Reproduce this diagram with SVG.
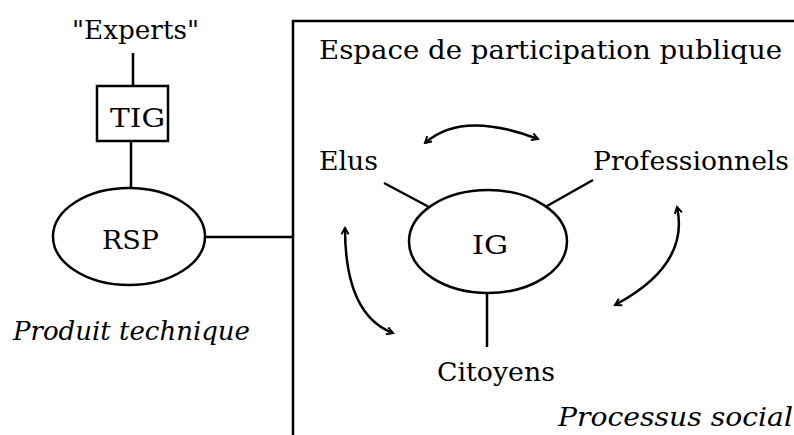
<svg xmlns="http://www.w3.org/2000/svg" width="794" height="435" viewBox="0 0 794 435">
<style>
.s{fill:none;stroke:#000;stroke-width:2.5}
text{font-size:26px;fill:#000}
.i{font-style:italic}
</style>
<defs>
<marker id="ah" viewBox="0 0 10 10" refX="8" refY="5" markerWidth="9" markerHeight="9" markerUnits="userSpaceOnUse" orient="auto-start-reverse">
<path d="M1,1 L8,5 L1,9" fill="none" stroke="#000" stroke-width="2.2"/>
</marker>
</defs>
<rect width="794" height="435" fill="#fff"/>
<g id="space">
<path class="s" d="M293,435 V21 H794"/>
<text style="font-family:'DejaVu Serif'" x="319" y="59" textLength="463" lengthAdjust="spacingAndGlyphs">Espace de participation publique</text>
</g>
<g id="connectors">
<line class="s" x1="133" y1="53" x2="133" y2="86"/>
<line class="s" x1="131" y1="141" x2="131" y2="188"/>
<line class="s" x1="205" y1="237" x2="293" y2="237"/>
<line class="s" x1="384" y1="183" x2="429" y2="207"/>
<line class="s" x1="593" y1="180" x2="547" y2="206"/>
<line class="s" x1="487" y1="293" x2="487" y2="347"/>
<path class="s" d="M425,143 Q462,110 538,139" marker-start="url(#ah)" marker-end="url(#ah)"/>
<path class="s" d="M345,228 Q345,315 393,333" marker-start="url(#ah)" marker-end="url(#ah)"/>
<path class="s" d="M677,207 Q690,265 615,305" marker-start="url(#ah)" marker-end="url(#ah)"/>
</g>
<g id="experts">
<text style="font-family:'DejaVu Serif'" x="72" y="39" textLength="127" lengthAdjust="spacingAndGlyphs">"Experts"</text>
</g>
<g id="tig">
<rect class="s" x="97" y="86" width="71" height="55"/>
<text style="font-family:'DejaVu Serif'" x="110" y="127" textLength="55" lengthAdjust="spacingAndGlyphs">TIG</text>
</g>
<g id="rsp">
<ellipse class="s" cx="129" cy="236.5" rx="76" ry="48.5"/>
<text style="font-family:'DejaVu Serif'" x="102" y="249" textLength="57" lengthAdjust="spacingAndGlyphs">RSP</text>
</g>
<g id="produit">
<text class="i" style="font-family:'DejaVu Serif'" x="13" y="340" textLength="237" lengthAdjust="spacingAndGlyphs">Produit technique</text>
</g>
<g id="ig">
<ellipse class="s" cx="488" cy="241.5" rx="79" ry="51.5"/>
<text style="font-family:'DejaVu Serif'" x="472" y="254" textLength="36" lengthAdjust="spacingAndGlyphs">IG</text>
</g>
<g id="elus">
<text style="font-family:'DejaVu Serif'" x="319" y="170" textLength="59" lengthAdjust="spacingAndGlyphs">Elus</text>
</g>
<g id="professionnels">
<text style="font-family:'DejaVu Serif'" x="593" y="170" textLength="196" lengthAdjust="spacingAndGlyphs">Professionnels</text>
</g>
<g id="citoyens">
<text style="font-family:'DejaVu Serif'" x="437" y="381" textLength="118" lengthAdjust="spacingAndGlyphs">Citoyens</text>
</g>
<g id="processus">
<text class="i" style="font-family:'DejaVu Serif'" x="558" y="426" textLength="235" lengthAdjust="spacingAndGlyphs">Processus social</text>
</g>
</svg>
